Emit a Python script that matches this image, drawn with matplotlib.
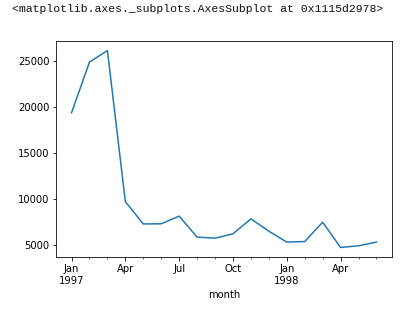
import matplotlib
matplotlib.use("Agg")
import matplotlib.pyplot as plt
import numpy as np

months = ["1997-01", "1997-02", "1997-03", "1997-04", "1997-05", "1997-06",
          "1997-07", "1997-08", "1997-09", "1997-10", "1997-11", "1997-12",
          "1998-01", "1998-02", "1998-03", "1998-04", "1998-05", "1998-06"]
values = [19400, 24900, 26150, 9750, 7330, 7350,
          8180, 5900, 5790, 6260, 7880, 6550,
          5360, 5420, 7520, 4780, 4960, 5360]
major_labels = ["Jan\n1997", "Apr", "Jul", "Oct", "Jan\n1998", "Apr"]
yticks = [5000, 10000, 15000, 20000, 25000]

fig = plt.figure(figsize=(412 / 72, 312 / 72), dpi=72)
fig.text(12 / 412, 1 - 9.5 / 312, "<matplotlib.axes._subplots.AxesSubplot at 0x1115d2978>",
         family="Liberation Mono", fontsize=11.45, va="center", ha="left", color="#111111")

ax = fig.add_axes([56.3 / 412, 54.7 / 312, (391.7 - 56.3) / 412, (257.3 - 40.7) / 312])
x = np.arange(len(months))
ax.plot(x, values, color="#1f77b4", linewidth=1.5)
ax.margins(x=0.05, y=0.05)

major_pos = [i for i, m in enumerate(months) if int(m[5:]) in (1, 4, 7, 10)]
ax.set_xticks(major_pos)
ax.set_xticklabels(major_labels[:len(major_pos)])
ax.set_xticks([i for i in x if i not in major_pos], minor=True)
ax.set_yticks(yticks)
ax.set_yticklabels([str(v) for v in yticks])
ax.tick_params(labelsize=10)
ax.set_xlabel("month", fontsize=10)

fig.savefig("out.png", dpi=72)
